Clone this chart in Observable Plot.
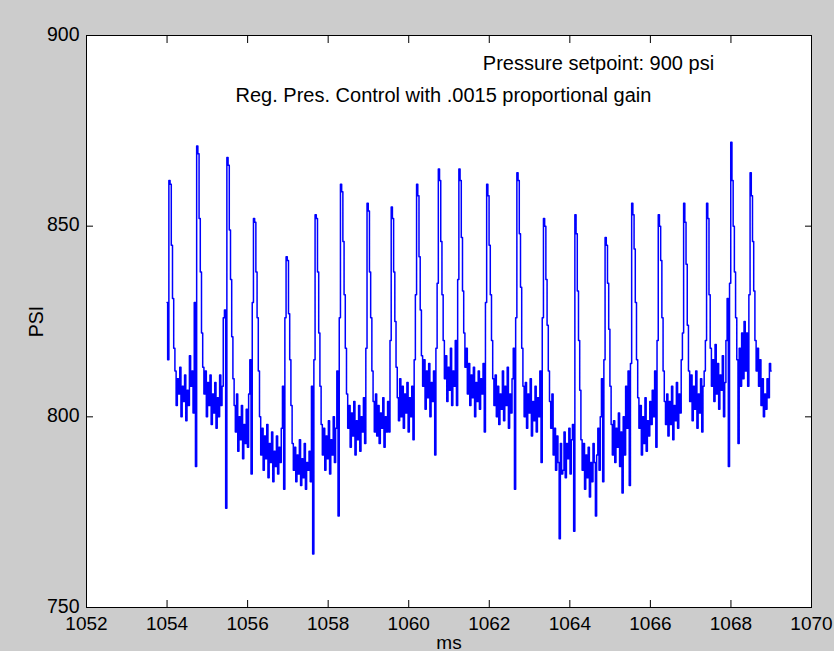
<!DOCTYPE html>
<html><head><meta charset="utf-8">
<script src="https://cdn.jsdelivr.net/npm/d3@7"></script>
<script src="https://cdn.jsdelivr.net/npm/@observablehq/plot@0.6"></script>
<style>html,body{margin:0;padding:0;background:#cccccc;} #chart{width:834px;height:651px;overflow:hidden;}</style>
</head><body><div id="chart"></div>
<script>
// time span of the recorded samples (ms)
const tStart = 1054, tEnd = 1069;
// pressure samples (psi), cycle by cycle
const psi = [
830,815,862,861,845,831,818,812,803,810,806,813,800,808,804,811,799,807,803,816,808,812,801,830,787,
871,869,852,838,822,813,806,812,800,809,803,811,798,806,801,809,797,805,800,811,803,808,826,828,776,
868,866,849,836,821,810,803,796,806,791,800,794,803,789,798,793,802,792,806,815,785,830,
852,851,838,826,812,800,790,797,786,795,789,798,784,793,788,796,783,791,787,795,785,792,788,797,808,781,826,
842,841,827,815,803,793,786,792,783,790,785,794,782,789,784,793,781,788,786,791,783,808,764,815,
853,852,838,822,808,798,790,797,786,795,789,799,785,794,790,800,788,797,812,774,826,
861,859,846,832,818,806,797,803,792,801,795,804,790,799,794,803,791,800,796,805,793,818,
856,854,838,826,812,804,796,806,795,803,793,801,797,805,792,800,796,804,796,820,
855,852,838,825,813,805,799,810,800,808,797,806,801,809,796,805,800,808,794,815,832,
861,858,842,828,816,808,815,802,812,805,814,800,809,804,812,790,818,835,
865,862,846,832,820,810,816,804,813,807,818,803,812,808,820,803,836,
865,862,847,833,822,813,818,806,814,803,811,805,813,800,809,804,812,802,810,806,814,796,830,
861,858,845,832,820,810,803,811,800,808,798,806,802,812,799,808,803,813,797,806,801,810,818,781,826,
864,862,848,834,818,808,800,809,797,806,801,810,795,804,799,808,796,805,800,812,788,826,
852,850,836,824,812,804,797,806,790,797,786,795,788,768,793,785,786,796,784,793,789,797,785,794,798,770,
853,848,833,820,807,794,786,793,781,790,784,792,779,788,783,793,788,774,790,797,786,800,810,783,815,
847,845,835,823,808,798,790,799,788,797,792,801,787,796,780,800,790,808,797,812,782,814,
856,853,844,830,815,805,797,803,790,800,793,805,791,799,795,804,798,807,800,812,792,820,
853,850,841,826,812,804,798,806,795,804,798,808,794,803,799,809,797,806,801,815,822,
856,851,840,824,812,804,811,799,808,802,812,797,806,801,810,796,808,812,820,
856,852,832,818,808,815,804,819,806,814,802,811,807,816,800,809,820,831,787,835,
872,862,850,838,826,815,793,818,808,822,810,825,812,822,808,832,
864,858,846,833,820,812,818,808,815,803,810,800,806,802,810,805,814,812
];
const xTicks = [1052, 1054, 1056, 1058, 1060, 1062, 1064, 1066, 1068, 1070];
const yTicks = [750, 800, 850, 900];
const noteText = ["Pressure setpoint: 900 psi", "Reg. Pres. Control with .0015 proportional gain"];
const noteX = [1061.84, 1055.70];
const noteY = [892.7, 884.3];

const data = psi.map((v, i) => ({t: tStart + i * (tEnd - tStart) / (psi.length - 1), v}));
const notes = noteText.map((s, i) => ({x: noteX[i], y: noteY[i], text: s}));
const font = "'Liberation Sans', Arial, Helvetica, sans-serif";
const fs = 20;
const fsx = 19;
const fmt = d3.format("d");

const chart = Plot.plot({
  width: 834, height: 651,
  marginLeft: 86, marginRight: 23, marginTop: 35, marginBottom: 44,
  style: {background: "#cccccc", fontFamily: font, fontSize: fs + "px", color: "black"},
  x: {domain: [1052, 1070], ticks: xTicks, tickFormat: fmt},
  y: {domain: [750, 900], ticks: yTicks, tickFormat: fmt},
  marks: [
    Plot.frame({fill: "white", stroke: "none"}),
    Plot.line(data, {x: "t", y: "v", stroke: "#0000ff", strokeWidth: 1.5, curve: "step"}),
    Plot.text(notes, {x: "x", y: "y", text: "text", textAnchor: "start", fontSize: fs, fill: "black"}),
    Plot.axisX(xTicks, {anchor: "bottom", tickSize: 7, dy: -7, tickFormat: () => "", label: null}),
    Plot.axisX(xTicks, {anchor: "top", tickSize: 7, dy: 7, tickFormat: () => "", label: null}),
    Plot.axisY(yTicks, {anchor: "left", tickSize: 7, dx: 7, tickFormat: () => "", label: null}),
    Plot.axisY(yTicks, {anchor: "right", tickSize: 7, dx: -7, tickFormat: () => "", label: null}),
    Plot.axisX(xTicks, {anchor: "bottom", tickSize: 0, tickPadding: 9, fontSize: fsx, tickFormat: fmt, label: "ms", labelAnchor: "center", labelOffset: 41, labelArrow: false}),
    Plot.axisY(yTicks, {anchor: "left", tickSize: 0, tickPadding: 7, dy: -1, fontSize: 19.5, tickFormat: fmt, label: "PSI", labelAnchor: "center", labelOffset: 57, labelArrow: false}),
    Plot.frame({stroke: "black", strokeWidth: 1})
  ]
});
document.getElementById("chart").appendChild(chart);
</script>
</body></html>
